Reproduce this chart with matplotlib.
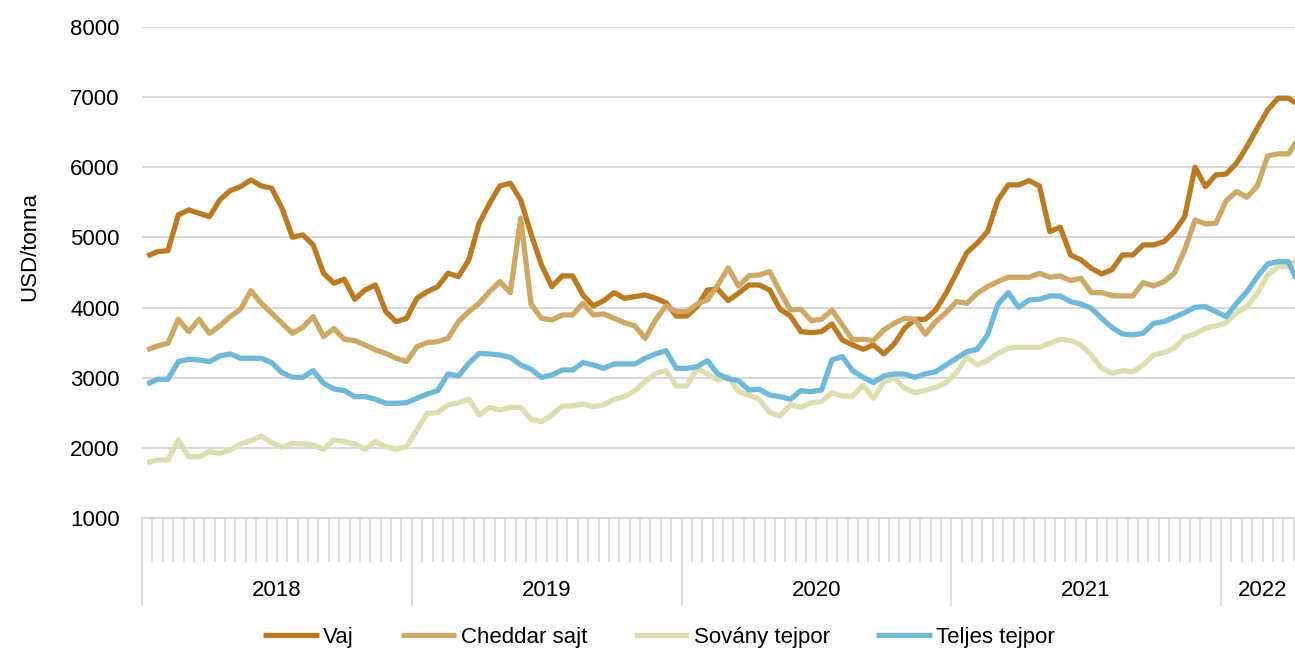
import numpy as np
import matplotlib
matplotlib.use("Agg")
import matplotlib.pyplot as plt
from matplotlib.transforms import blended_transform_factory

plt.rcParams['font.family'] = ['Liberation Sans', 'DejaVu Sans']

# biweekly prices, USD/tonna, 2018 - early 2022
vaj = [4736, 4797, 4812, 5321, 5392, 5345, 5297, 5535, 5667, 5724, 5820, 5734, 5701, 5416, 5003, 5036, 4893, 4489, 4347, 4404, 4118, 4251, 4322, 3942, 3799, 3847,
       4133, 4227, 4298, 4489, 4441, 4679, 5202, 5487, 5734, 5773, 5535, 5050, 4608, 4298, 4451, 4451, 4180, 4023, 4099, 4213, 4133, 4156, 4180, 4133, 4070, 3880,
       3880, 4013, 4251, 4261, 4100, 4204, 4322, 4322, 4251, 3976, 3880, 3657, 3643, 3657, 3767, 3538, 3467, 3405, 3467, 3339, 3481, 3705, 3833, 3833, 3966, 4204,
       4489, 4783, 4917, 5083, 5535, 5749, 5749, 5810, 5734, 5083, 5145, 4750, 4679, 4560, 4479, 4540, 4750, 4750, 4893, 4893, 4940, 5083, 5297, 6001, 5724, 5891,
       5905, 6058, 6295, 6557, 6818, 6985, 6985, 6890]
cheddar = [3396, 3453, 3491, 3833, 3657, 3833, 3633, 3738, 3871, 3976, 4241, 4061, 3919, 3776, 3633, 3719, 3871, 3586, 3700, 3548, 3529, 3467, 3396, 3348, 3277, 3229,
           3443, 3500, 3515, 3562, 3799, 3942, 4061, 4227, 4370, 4213, 5274, 4050, 3847, 3823, 3895, 3895, 4061, 3895, 3909, 3847, 3785, 3738, 3562, 3823, 4023, 3942,
           3942, 4051, 4109, 4322, 4565, 4308, 4451, 4465, 4512, 4227, 3966, 3976, 3814, 3833, 3966, 3752, 3538, 3548, 3529, 3681, 3776, 3847, 3833, 3620, 3799, 3928,
           4085, 4061, 4204, 4298, 4370, 4432, 4432, 4432, 4489, 4432, 4451, 4384, 4418, 4213, 4213, 4170, 4166, 4166, 4356, 4308, 4370, 4489, 4821, 5249, 5192, 5202,
           5525, 5653, 5573, 5734, 6162, 6191, 6191, 6420]
sovany = [1789, 1827, 1827, 2112, 1874, 1874, 1945, 1922, 1970, 2055, 2102, 2169, 2074, 2008, 2065, 2055, 2041, 1980, 2112, 2089, 2055, 1980, 2089, 2017, 1980, 2017,
          2255, 2493, 2502, 2612, 2644, 2693, 2469, 2578, 2540, 2578, 2578, 2407, 2373, 2469, 2597, 2597, 2626, 2588, 2612, 2693, 2731, 2816, 2944, 3063, 3101, 2882,
          2882, 3134, 3053, 2968, 3020, 2801, 2754, 2693, 2502, 2455, 2612, 2578, 2644, 2659, 2787, 2740, 2740, 2897, 2707, 2944, 2992, 2849, 2787, 2820, 2863, 2930,
          3072, 3301, 3182, 3244, 3348, 3420, 3434, 3434, 3434, 3491, 3548, 3529, 3467, 3324, 3134, 3063, 3101, 3086, 3182, 3324, 3357, 3420, 3577, 3624, 3705, 3738,
          3785, 3928, 4013, 4204, 4465, 4584, 4584, 4700]
teljes = [2911, 2978, 2978, 3229, 3263, 3253, 3229, 3310, 3339, 3277, 3277, 3277, 3215, 3072, 3006, 3006, 3101, 2921, 2840, 2816, 2730, 2730, 2693, 2636, 2636, 2644,
          2707, 2768, 2816, 3053, 3025, 3206, 3348, 3339, 3324, 3291, 3182, 3120, 3006, 3039, 3110, 3110, 3215, 3182, 3134, 3196, 3196, 3196, 3277, 3339, 3386, 3134,
          3134, 3158, 3244, 3053, 2985, 2958, 2825, 2835, 2754, 2730, 2693, 2816, 2801, 2825, 3253, 3301, 3101, 3006, 2930, 3025, 3053, 3053, 3006, 3055, 3086, 3182,
          3277, 3372, 3405, 3610, 4051, 4213, 4004, 4109, 4118, 4166, 4166, 4085, 4051, 3990, 3847, 3715, 3624, 3610, 3633, 3776, 3799, 3862, 3928, 4004, 4013, 3942,
          3871, 4061, 4227, 4441, 4622, 4655, 4655, 4330]

years = ['2018', '2019', '2020', '2021', '2022']
year_lengths = [26, 26, 26, 26, 8]
series_names = ['Vaj', 'Cheddar sajt', 'Sovány tejpor', 'Teljes tejpor']
colors = ['#BE7A1F', '#CFA862', '#DDE0AE', '#6BB9DC']

n = len(vaj)
x = np.arange(n) + 0.5
grid_col = '#D9D9D9'

fig = plt.figure(figsize=(12.95, 6.51), dpi=100)
W, H = 1295, 651
ax = fig.add_axes([142 / W, (H - 518) / H, (1304 - 142) / W, (518 - 27) / H])

for vals, name, col in zip([vaj, cheddar, sovany, teljes], series_names, colors):
    ax.plot(x, vals, color=col, lw=3.8, label=name, solid_joinstyle='round', solid_capstyle='butt')

ax.set_xlim(0, n)
ax.set_ylim(1000, 8000)
ax.set_yticks(range(1000, 8001, 1000))
ax.yaxis.grid(True, color=grid_col, lw=1.5)
ax.set_axisbelow(True)
for s in ['top', 'right', 'left']:
    ax.spines[s].set_visible(False)
ax.spines['bottom'].set_color(grid_col)
ax.spines['bottom'].set_linewidth(1.5)
ax.tick_params(axis='y', length=0, pad=16, labelsize=16)

# category ticks and year separators
bounds = np.cumsum([0] + year_lengths)
ax.set_xticks(bounds[:-1])
ax.set_xticks(np.arange(n + 1), minor=True)
ax.tick_params(axis='x', which='major', length=63, width=1.2, color=grid_col, labelbottom=False)
ax.tick_params(axis='x', which='minor', length=32, width=1.2, color=grid_col)

trans = blended_transform_factory(ax.transData, fig.transFigure)
for yr, a, b in zip(years, bounds[:-1], bounds[1:]):
    ax.text((a + b) / 2, (H - 590) / H, yr, transform=trans, ha='center', va='center', fontsize=16)

fig.text(30 / W, (H - 247) / H, 'USD/tonna', rotation=90, ha='center', va='center', fontsize=16)

fig.legend(loc='center', bbox_to_anchor=(0.509, (H - 637) / H), ncol=4, frameon=False,
           fontsize=16, handlelength=2.5, handletextpad=0.2, columnspacing=2.1)

fig.savefig('out.png', dpi=100)
